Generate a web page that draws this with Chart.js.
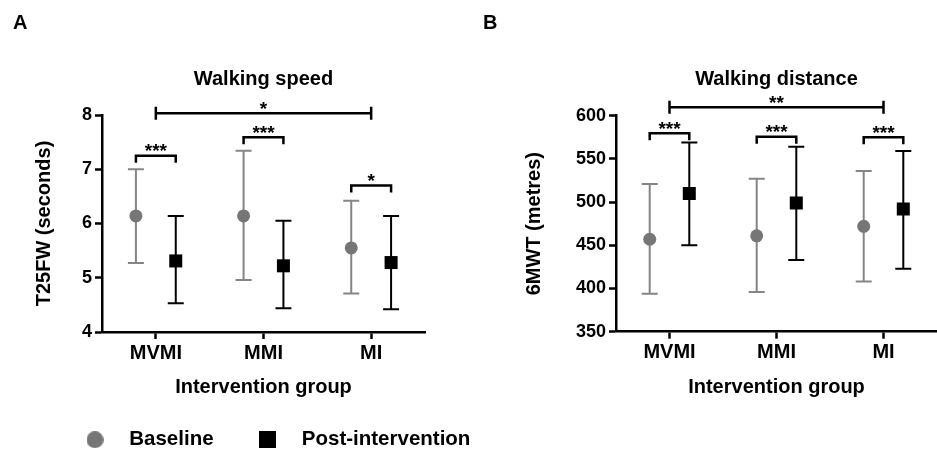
<!DOCTYPE html>
<html>
<head>
<meta charset="utf-8">
<script src="https://cdn.jsdelivr.net/npm/chart.js@4.4.1/dist/chart.umd.min.js"></script>
<style>
  body { margin: 0; background: #fff; width: 937px; height: 456px; position: relative; overflow: hidden; }
  #wrapA { position: absolute; left: 0; top: 0; width: 520px; height: 456px; }
  #wrapB { position: absolute; left: 470px; top: 0; width: 467px; height: 456px; }
</style>
</head>
<body>
<div id="wrapA"><canvas id="chartA" width="520" height="456"></canvas></div>
<div id="wrapB"><canvas id="chartB" width="467" height="456"></canvas></div>
<script>
// --- DATA ---
const groups = ['MVMI', 'MMI', 'MI'];

// Panel A: walking speed, T25FW (seconds)
const speedBase = [6.14, 6.14, 5.55];
const speedBaseLow = [5.27, 4.96, 4.71];
const speedBaseHigh = [7.00, 7.34, 6.42];
const speedPost = [5.31, 5.22, 5.28];
const speedPostLow = [4.53, 4.44, 4.42];
const speedPostHigh = [6.14, 6.05, 6.14];
const speedTicks = [4, 5, 6, 7, 8];
const speedPairY = [7.25, 7.59, 6.70];
const speedPairStars = ['***', '***', '*'];
const speedSpan = { from: 0, to: 2, y: 8.03, stars: '*' };

// Panel B: walking distance, 6MWT (metres)
const distBase = [457, 461, 472];
const distBaseLow = [394, 396, 408];
const distBaseHigh = [521, 527, 536];
const distPost = [510, 499, 492];
const distPostLow = [450, 433, 423];
const distPostHigh = [569, 564, 559];
const distTicks = [350, 400, 450, 500, 550, 600];
const distPairY = [579.6, 575.7, 575.0];
const distPairStars = ['***', '***', '***'];
const distSpan = { from: 0, to: 2, y: 609.7, stars: '**' };

// --- STYLE ---
const FONT = '"Liberation Sans", Arial, Helvetica, sans-serif';
const GREY = '#767676';
const GREY_BAR = '#858585';
const OFF = 0.185; // horizontal shift of baseline / post inside a group

Chart.defaults.font.family = FONT;
Chart.defaults.color = '#000';

function boldFont(size, lineHeight) {
    const f = { family: FONT, size: size, weight: 'bold' };
    if (lineHeight !== undefined) f.lineHeight = lineHeight;
    return f;
}

// legend marker images (17 px, like the figure)
function markerImage(shape, color) {
    const c = document.createElement('canvas');
    c.width = 17; c.height = 17;
    const g = c.getContext('2d');
    g.fillStyle = color;
    if (shape === 'circle') {
        g.beginPath(); g.arc(8.5, 8.5, 8.5, 0, Math.PI * 2); g.fill();
    } else {
        g.fillRect(0, 0, 17, 17);
    }
    return c;
}

// --- PLUGIN: error bars, significance brackets, panel letter ---
const annotations = {
    id: 'annotations',
    beforeDatasetsDraw(chart, args, opts) {
        const { ctx, scales: { x, y } } = chart;
        opts.bars.forEach(b => {
            ctx.save();
            ctx.strokeStyle = b.color;
            ctx.lineWidth = 2;
            b.low.forEach((lo, i) => {
                const px = x.getPixelForValue(i + 1 + b.shift);
                const y1 = y.getPixelForValue(lo);
                const y2 = y.getPixelForValue(b.high[i]);
                ctx.beginPath();
                ctx.moveTo(px, y1); ctx.lineTo(px, y2);
                ctx.moveTo(px - 8, y1); ctx.lineTo(px + 8, y1);
                ctx.moveTo(px - 8, y2); ctx.lineTo(px + 8, y2);
                ctx.stroke();
            });
            ctx.restore();
        });
    },
    afterDraw(chart, args, opts) {
        const { ctx, scales: { x, y } } = chart;
        ctx.save();
        ctx.strokeStyle = '#000';
        ctx.fillStyle = '#000';
        ctx.lineWidth = 2.5;
        ctx.font = 'bold 19px ' + FONT;
        ctx.textAlign = 'center';
        ctx.textBaseline = 'alphabetic';

        // pairwise brackets inside each group
        opts.pairY.forEach((v, i) => {
            const x1 = x.getPixelForValue(i + 1 - OFF);
            const x2 = x.getPixelForValue(i + 1 + OFF);
            const yy = y.getPixelForValue(v);
            ctx.beginPath();
            ctx.moveTo(x1, yy + 7); ctx.lineTo(x1, yy); ctx.lineTo(x2, yy); ctx.lineTo(x2, yy + 7);
            ctx.stroke();
            ctx.fillText(opts.pairStars[i], (x1 + x2) / 2, yy + 1.5);
        });

        // bracket across groups
        const s = opts.span;
        const sx1 = x.getPixelForValue(s.from + 1);
        const sx2 = x.getPixelForValue(s.to + 1);
        const sy = y.getPixelForValue(s.y);
        ctx.beginPath();
        ctx.moveTo(sx1, sy); ctx.lineTo(sx2, sy);
        ctx.moveTo(sx1, sy - 6.5); ctx.lineTo(sx1, sy + 6.5);
        ctx.moveTo(sx2, sy - 6.5); ctx.lineTo(sx2, sy + 6.5);
        ctx.stroke();
        ctx.fillText(s.stars, (sx1 + sx2) / 2, sy + 1.5);

        // panel letter
        ctx.textAlign = 'left';
        ctx.font = 'bold 20px ' + FONT;
        ctx.fillText(opts.letter, 13, 28.5);
        ctx.restore();
    }
};

// --- CHART BUILDER ---
function buildChart(canvasId, cfg) {
    const ctx = document.getElementById(canvasId).getContext('2d');

    const scales = {
        x: {
            type: 'linear', min: 0.5, max: 3.5,
            afterBuildTicks: s => { s.ticks = groups.map((g, i) => ({ value: i + 1 })); },
            afterFit: s => { s.height = cfg.xHeight; s.paddingLeft = 0; s.paddingRight = 0; },
            ticks: { callback: v => groups[Math.round(v) - 1], font: boldFont(20), color: '#000', padding: 2, maxRotation: 0, autoSkip: false },
            grid: { drawOnChartArea: false, tickLength: 7, tickWidth: 2.5, tickColor: '#000' },
            border: { color: '#000', width: 2.5 },
            title: { display: true, text: 'Intervention group', font: boldFont(20, 1), color: '#000', padding: { top: 0, bottom: cfg.xTitlePad } }
        },
        y: {
            type: 'linear', position: 'left',
            min: cfg.ticks[0], max: cfg.ticks[cfg.ticks.length - 1],
            afterBuildTicks: s => { s.ticks = cfg.ticks.map(v => ({ value: v })); },
            afterFit: s => { s.width = cfg.yWidth; },
            ticks: { font: boldFont(18), color: '#000', padding: 3 },
            grid: { drawOnChartArea: false, tickLength: 7, tickWidth: 2.5, tickColor: '#000' },
            border: { color: '#000', width: 2.5 },
            title: { display: true, text: cfg.yTitle, font: boldFont(20, 0.3), color: '#000', padding: { top: cfg.yTitlePad, bottom: 0 } }
        }
    };
    if (cfg.rightSpace) {
        // empty right axis keeps the plot narrow while the legend gets room
        scales.spacer = {
            type: 'linear', position: 'right', display: true,
            ticks: { display: false }, grid: { display: false }, border: { display: false },
            afterFit: s => { s.width = cfg.rightSpace; }
        };
    }

    return new Chart(ctx, {
        type: 'scatter',
        data: {
            datasets: [
                {
                    label: 'Baseline',
                    data: cfg.base.map((v, i) => ({ x: i + 1 - OFF, y: v })),
                    pointStyle: 'circle', pointRadius: 6.5,
                    backgroundColor: GREY, borderColor: GREY, borderWidth: 0
                },
                {
                    label: 'Post-intervention',
                    data: cfg.post.map((v, i) => ({ x: i + 1 + OFF, y: v })),
                    pointStyle: 'rect', pointRadius: 9.2,
                    backgroundColor: '#000', borderColor: '#000', borderWidth: 0
                }
            ]
        },
        options: {
            responsive: false,
            animation: false,
            events: [],
            layout: { padding: cfg.padding, autoPadding: false },
            scales: scales,
            plugins: {
                title: {
                    display: true, text: cfg.title, fullSize: false,
                    font: boldFont(20, 1.2), color: '#000',
                    padding: { top: 67, bottom: cfg.titlePadBottom }
                },
                legend: {
                    display: cfg.legend,
                    position: 'bottom', align: 'start',
                    labels: {
                        usePointStyle: true, pointStyleWidth: 48, padding: 30,
                        font: boldFont(20.5), color: '#000',
                        generateLabels: () => [
                            { text: 'Baseline', pointStyle: markerImage('circle', GREY), fillStyle: GREY, lineWidth: 0, datasetIndex: 0 },
                            { text: 'Post-intervention', pointStyle: markerImage('rect', '#000'), fillStyle: '#000', lineWidth: 0, datasetIndex: 1 }
                        ]
                    }
                },
                tooltip: { enabled: false },
                annotations: {
                    letter: cfg.letter,
                    bars: [
                        { low: cfg.baseLow, high: cfg.baseHigh, shift: -OFF, color: GREY_BAR },
                        { low: cfg.postLow, high: cfg.postHigh, shift: OFF, color: '#000' }
                    ],
                    pairY: cfg.pairY, pairStars: cfg.pairStars, span: cfg.span
                }
            }
        },
        plugins: [annotations]
    });
}

// --- INITIALIZATION ---
buildChart('chartA', {
    letter: 'A', title: 'Walking speed', yTitle: 'T25FW (seconds)',
    base: speedBase, baseLow: speedBaseLow, baseHigh: speedBaseHigh,
    post: speedPost, postLow: speedPostLow, postHigh: speedPostHigh,
    ticks: speedTicks, pairY: speedPairY, pairStars: speedPairStars, span: speedSpan,
    padding: { left: 41, right: 0, top: 0, bottom: -4 },
    yWidth: 61, yTitlePad: 0, xHeight: 67.5, xTitlePad: 2.5,
    titlePadBottom: 24, rightSpace: 95, legend: true
});

buildChart('chartB', {
    letter: 'B', title: 'Walking distance', yTitle: '6MWT (metres)',
    base: distBase, baseLow: distBaseLow, baseHigh: distBaseHigh,
    post: distPost, postLow: distPostLow, postHigh: distPostHigh,
    ticks: distTicks, pairY: distPairY, pairStars: distPairStars, span: distSpan,
    padding: { left: 0, right: 0, top: 0, bottom: 0 },
    yWidth: 146, yTitlePad: 61, xHeight: 124.3, xTitlePad: 59,
    titlePadBottom: 24.7, rightSpace: 0, legend: false
});
</script>
</body>
</html>
